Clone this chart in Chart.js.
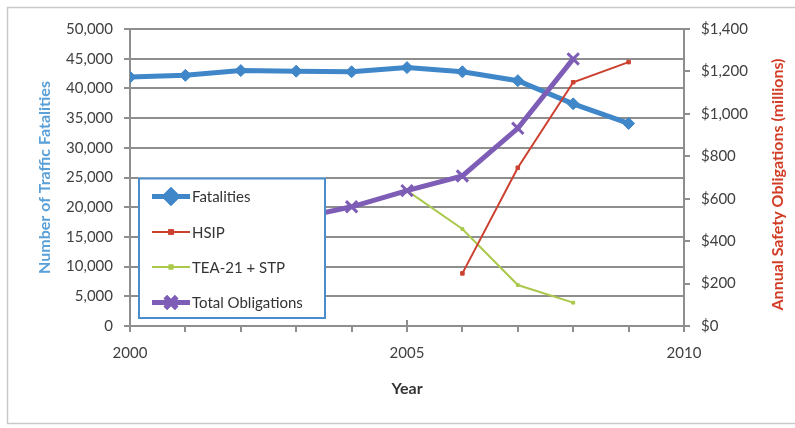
<!DOCTYPE html>
<html><head><meta charset="utf-8">
<script src="https://cdn.jsdelivr.net/npm/chart.js@4/dist/chart.umd.min.js"></script>
<style>html,body{margin:0;padding:0;background:#fff}#wrap{width:795px;height:428px}</style>
</head><body><div id="wrap"><canvas id="c" width="795" height="428"></canvas></div>
<script>
// ---- data ----
const years = [2000, 2001, 2002, 2003, 2004, 2005, 2006, 2007, 2008, 2009];
const fatalities = [41900, 42200, 43000, 42900, 42800, 43500, 42800, 41300, 37400, 34100];
const hsip = [null, null, null, null, null, null, 248, 746, 1149, 1244];
const tea21Stp = [null, null, null, null, null, 638, 457, 193, 110, null];
const totalObligations = [null, null, null, 506, 562, 638, 707, 932, 1259, null];
const xLabelYears = [2000, 2005, 2010];
const seriesNames = ['Fatalities', 'HSIP', 'TEA-21 + STP', 'Total Obligations'];
const leftTitle = 'Number of Traffic Fatalities';
const rightTitle = 'Annual Safety Obligations (millions)';
const xTitle = 'Year';

const COL_BLUE = '#3f87c9', COL_RED = '#cc4030', COL_GREEN = '#aac94c', COL_PURPLE = '#7d5db6';
const GRID = '#8e8e8e';
const FONT = 'Lato, "Open Sans", sans-serif';

function pts(vals){ return years.map((y,i)=>({x:y, y:vals[i]})).filter(p=>p.y!==null); }

const styles = [
  {color: COL_BLUE, width: 5, style: 'rectRot', r: 6, bw: 1},
  {color: COL_RED, width: 2, style: 'rect', r: 2.5, bw: 1},
  {color: COL_GREEN, width: 2, style: 'rect', r: 2, bw: 1},
  {color: COL_PURPLE, width: 5, style: 'crossRot', r: 8, bw: 3}
];

const legendPlugin = {
  id: 'boxLegend',
  afterDatasetsDraw(chart){
    const ctx = chart.ctx, ca = chart.chartArea, yS = chart.scales.y;
    const bx = ca.left + 8, by = yS.getPixelForValue(25000), bw = 188, bh = ca.bottom - 7 - by;
    ctx.save();
    ctx.fillStyle = '#fff';
    ctx.fillRect(bx, by, bw, bh);
    ctx.strokeStyle = '#4b8dcc'; ctx.lineWidth = 2;
    ctx.strokeRect(bx+1, by+1, bw-2, bh-2);
    ctx.font = '15px ' + FONT; ctx.fillStyle = '#333'; ctx.textBaseline = 'middle';
    const rowY = [19, 54.5, 89.5, 125];
    seriesNames.forEach((name,i)=>{
      const s = styles[i], y = by + rowY[i];
      const x0 = bx + 14, x1 = bx + 52;
      ctx.strokeStyle = s.color; ctx.lineWidth = s.width;
      ctx.beginPath(); ctx.moveTo(x0, y); ctx.lineTo(x1, y); ctx.stroke();
      ctx.fillStyle = s.color;
      if (Chart.helpers && Chart.helpers.drawPoint) {
        Chart.helpers.drawPoint(ctx, {pointStyle: s.style, radius: s.r, borderWidth: s.bw, rotation: 0}, (x0+x1)/2, y);
        ctx.fill(); ctx.stroke();
      }
      ctx.fillStyle = '#333';
      ctx.fillText(name, x1 + 2, y + 1);
    });
    ctx.restore();
  },
  afterDraw(chart){
    const ctx = chart.ctx, ca = chart.chartArea;
    ctx.save();
    // major x ticks crossing the axis
    ctx.strokeStyle = GRID; ctx.lineWidth = 2;
    xLabelYears.forEach(v=>{
      const x = chart.scales.x.getPixelForValue(v);
      ctx.beginPath(); ctx.moveTo(x, ca.bottom - 6); ctx.lineTo(x, ca.bottom); ctx.stroke();
    });
    // right axis title (reads bottom to top)
    ctx.translate(778, (ca.top + ca.bottom)/2 + 7);
    ctx.rotate(-Math.PI/2);
    ctx.font = 'bold 16px ' + FONT; ctx.fillStyle = '#d23c24';
    ctx.textAlign = 'center'; ctx.textBaseline = 'middle';
    ctx.fillText(rightTitle, 0, 0);
    ctx.restore();
    // outer frame
    ctx.save();
    ctx.strokeStyle = '#c9c9c9'; ctx.lineWidth = 1.5;
    ctx.strokeRect(7.5, 7.5, 800, 416);
    ctx.restore();
  },
  beforeDraw(chart){
    const ctx = chart.ctx; ctx.save(); ctx.fillStyle = '#fff';
    ctx.fillRect(0,0,chart.width,chart.height); ctx.restore();
  }
};

function build(){
  Chart.defaults.font.family = FONT;
  Chart.defaults.font.size = 15;
  Chart.defaults.color = '#404040';
  new Chart(document.getElementById('c'), {
    type: 'line',
    data: {
      datasets: [
        {label: seriesNames[0], data: pts(fatalities), yAxisID: 'y', order: 4,
         borderColor: COL_BLUE, backgroundColor: COL_BLUE, borderWidth: 5,
         pointStyle: 'rectRot', pointRadius: 6, pointBorderWidth: 1},
        {label: seriesNames[1], data: pts(hsip), yAxisID: 'y1', order: 2,
         borderColor: COL_RED, backgroundColor: COL_RED, borderWidth: 2,
         pointStyle: 'rect', pointRadius: 2.5, pointBorderWidth: 1},
        {label: seriesNames[2], data: pts(tea21Stp), yAxisID: 'y1', order: 3,
         borderColor: COL_GREEN, backgroundColor: COL_GREEN, borderWidth: 2,
         pointStyle: 'rect', pointRadius: 2, pointBorderWidth: 1},
        {label: seriesNames[3], data: pts(totalObligations), yAxisID: 'y1', order: 1,
         borderColor: COL_PURPLE, backgroundColor: COL_PURPLE, borderWidth: 5,
         pointStyle: 'crossRot', pointRadius: 8, pointBorderWidth: 3}
      ]
    },
    options: {
      responsive: false, animation: false, devicePixelRatio: 1,
      layout: {padding: {top: 29, left: 0, right: 0, bottom: 0}},
      plugins: {legend: {display: false}, tooltip: {enabled: false}},
      elements: {line: {tension: 0}},
      scales: {
        x: {
          type: 'linear', min: 2000, max: 2010,
          afterFit(s){ s.height = 102; },
          ticks: {stepSize: 1, autoSkip: false, maxRotation: 0, padding: 12, color: '#404040',
                  callback: v => xLabelYears.includes(v) ? String(v) : ''},
          grid: {drawOnChartArea: false, tickLength: 6, color: 'rgba(0,0,0,0)', tickColor: GRID, lineWidth: 2, tickWidth: 2},
          border: {color: GRID, width: 2},
          title: {display: true, text: xTitle, color: '#333', font: {weight: 'bold', size: 16},
                  padding: {top: 0, bottom: 30}}
        },
        y: {
          position: 'left', min: 0, max: 50000,
          afterFit(s){ s.width = 130; },
          ticks: {stepSize: 5000, padding: 11, color: '#404040',
                  callback: v => v.toLocaleString('en-US')},
          grid: {color: GRID, lineWidth: 2, tickLength: 6},
          border: {color: GRID, width: 2},
          title: {display: true, text: leftTitle, color: '#5aa0d8', font: {weight: 'bold', size: 16},
                  padding: {top: 35, bottom: 0}}
        },
        y1: {
          position: 'right', min: 0, max: 1400,
          afterFit(s){ s.width = 111; },
          ticks: {stepSize: 200, padding: 11, color: '#404040',
                  callback: v => '$' + v.toLocaleString('en-US')},
          grid: {drawOnChartArea: false, color: 'rgba(0,0,0,0)', tickColor: GRID, lineWidth: 2, tickWidth: 2, tickLength: 6},
          border: {color: GRID, width: 2}
        }
      }
    },
    plugins: [legendPlugin]
  });
}
if (document.fonts && document.fonts.load) {
  Promise.all([document.fonts.load('15px Lato'), document.fonts.load('bold 16px Lato')]).then(build, build);
} else build();
</script>
</body></html>
